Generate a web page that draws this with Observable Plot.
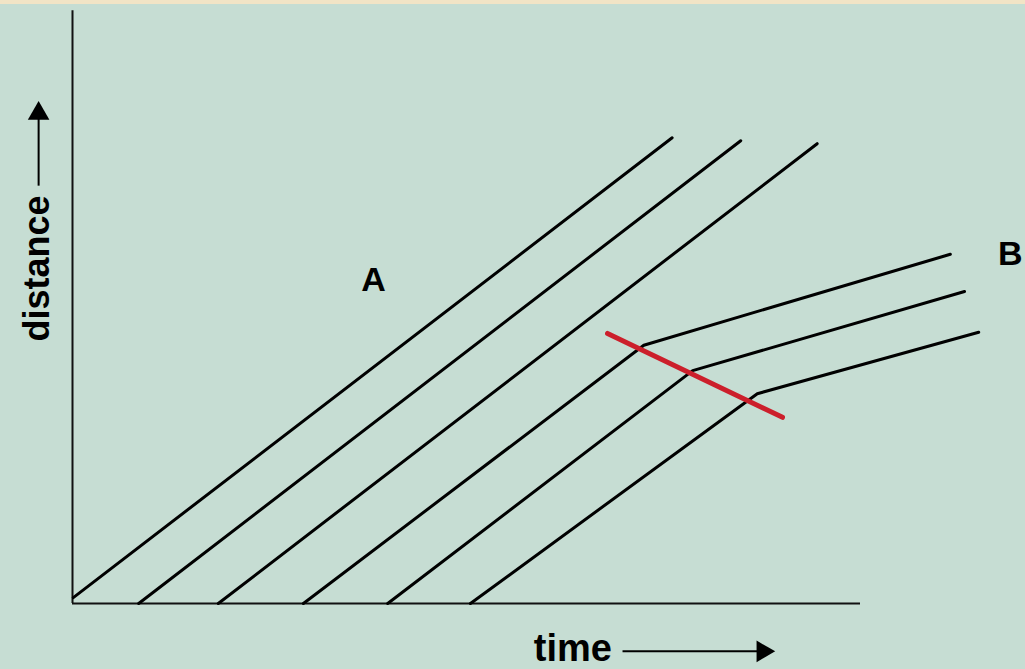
<!DOCTYPE html>
<html><head><meta charset="utf-8">
<script src="https://cdn.jsdelivr.net/npm/d3@7"></script>
<script src="https://cdn.jsdelivr.net/npm/@observablehq/plot@0.6"></script>
<style>
body{margin:0;background:#c6ddd3;width:1025px;height:669px;overflow:hidden}
#band{height:4px;background:#f2e4c6}
</style></head><body>
<div id="band"></div>
<div id="chart"></div>
<script>
// world lines: id, time, distance (arbitrary units)
const lineIds   = [1,1, 2,2, 3,3, 4,4,4, 5,5,5, 6,6,6];
const lineTime  = [0.01,7.61, 0.84,8.48, 1.85,9.45, 2.93,7.25,11.14, 4.00,7.87,11.32, 5.05,8.69,11.50];
const lineDist  = [0.10,7.88, 0.00,7.83, 0.00,7.78, 0.00,4.37,5.91, 0.00,3.94,5.28, 0.00,3.55,4.59];
// red marker line
const redTime = [6.79, 9.01];
const redDist = [4.57, 3.15];
// region labels
const labelText = ["A", "B"];
const labelTime = [3.82, 11.90];
const labelDist = [5.47, 5.91];

const lines = lineIds.map((id,i)=>({id, t: lineTime[i], d: lineDist[i]}));
const red = redTime.map((t,i)=>({t, d: redDist[i]}));
const labels = labelText.map((s,i)=>({s, t: labelTime[i], d: labelDist[i]}));

const font = "Liberation Sans, Arial, sans-serif";
const plot = Plot.plot({
  width: 1025, height: 665,
  marginLeft: 72, marginRight: 165, marginTop: 8, marginBottom: 66,
  style: {background: "#c6ddd3", fontFamily: font, overflow: "visible"},
  x: {domain: [0, 10], axis: null},
  y: {domain: [0, 10], axis: null},
  marks: [
    Plot.ruleX([0], {y1: 0, y2: 10.03, stroke: "#111", strokeWidth: 2}),
    Plot.ruleY([0], {x1: 0, x2: 10, stroke: "#111", strokeWidth: 2}),
    Plot.line(lines, {x: "t", y: "d", z: "id", stroke: "#000", strokeWidth: 3, strokeLinejoin: "round"}),
    Plot.line(red, {x: "t", y: "d", stroke: "#cc1f2b", strokeWidth: 5, strokeLinecap: "round"}),
    Plot.text(labels, {x: "t", y: "d", text: "s", fontSize: 34, fontWeight: "bold", fill: "#000"}),
    // axis captions
    Plot.text(["time"], {x: 6.35, y: -0.76, fontSize: 38, fontWeight: "bold", fill: "#000"}),
    Plot.link([0], {x1: 6.98, x2: 8.70, y1: -0.81, y2: -0.81, stroke: "#000", strokeWidth: 2}),
    Plot.dot([0], {x: 8.76, y: -0.81, symbol: "triangle", r: 8, rotate: 90, fill: "#000", stroke: "none"}),
    Plot.text(["distance"], {x: -0.44, y: 5.67, rotate: -90, fontSize: 36, fontWeight: "bold", fill: "#000"}),
    Plot.link([0], {x1: -0.43, x2: -0.43, y1: 7.07, y2: 8.2, stroke: "#000", strokeWidth: 2}),
    Plot.dot([0], {x: -0.43, y: 8.29, symbol: "triangle", r: 8, fill: "#000", stroke: "none"})
  ]
});
document.getElementById("chart").appendChild(plot);
</script>
</body></html>
